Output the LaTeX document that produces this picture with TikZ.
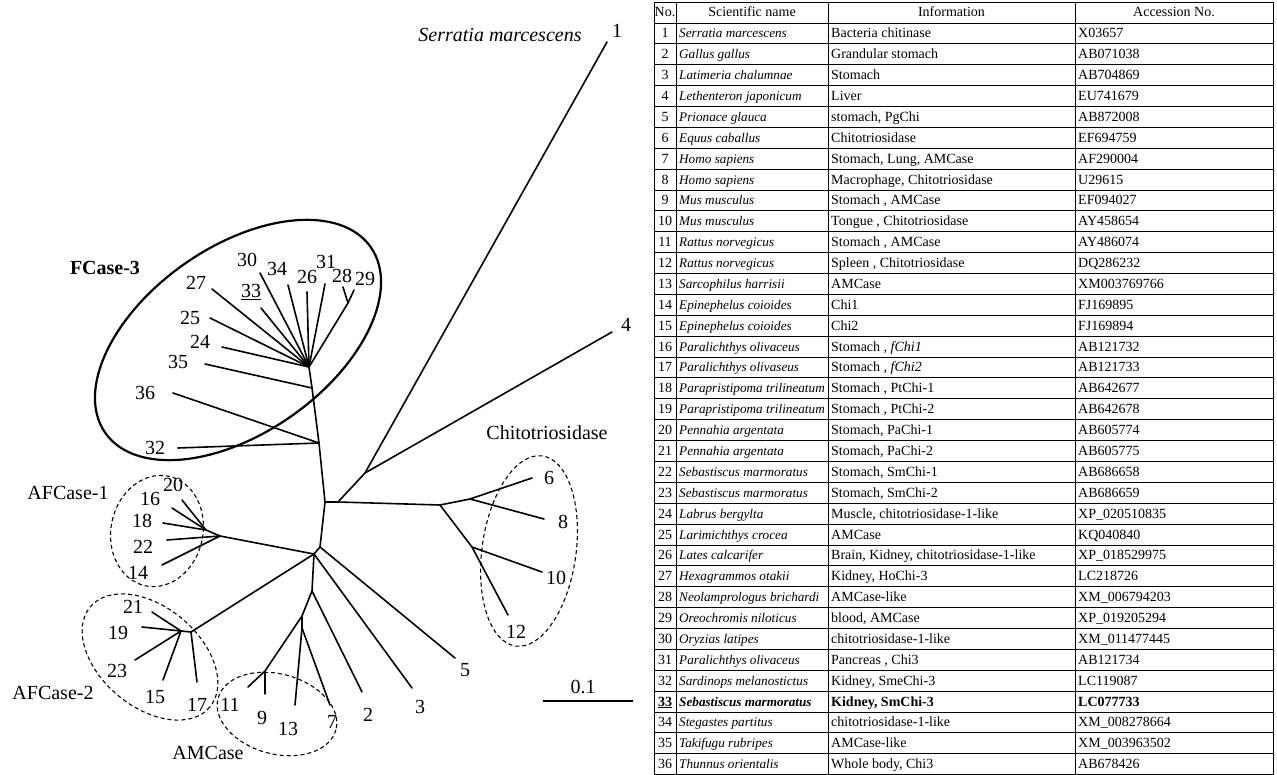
\documentclass[tikz,border=0pt]{standalone}
\usepackage{fontspec}
\setmainfont{Liberation Serif}
\usepackage{tikz}
\newcommand{\treefont}{\fontsize{20}{22}\selectfont}
\newcommand{\tabfont}{\fontsize{14}{16}\selectfont}

\begin{document}
\begin{tikzpicture}[x=1pt,y=-1pt,
	branch/.style={line width=1.6pt,line cap=round},
	leaf/.style={font=\treefont,inner sep=0pt},
	clade/.style={line width=1.1pt,dash pattern=on 4pt off 3pt},
	cell/.style={font=\tabfont,inner sep=0pt,anchor=base west},
	scicell/.style={cell,font=\fontsize{13.2}{16}\selectfont\itshape},
	rule/.style={line width=0.7pt}]
	\useasboundingbox (0,0) rectangle (1277,775);
	% inner nodes of the tree
	\coordinate (n0) at (325,502);
	\coordinate (n1) at (338,502);
	\coordinate (a14) at (365,473);
	\coordinate (c0) at (440,505);
	\coordinate (c1) at (470,499);
	\coordinate (c2) at (472,547);
	\coordinate (g) at (319,443);
	\coordinate (f35) at (312,388);
	\coordinate (f1) at (309,367);
	\coordinate (h) at (348,303);
	\coordinate (m0) at (320,547);
	\coordinate (m1) at (314,554);
	\coordinate (m2) at (312,591);
	\coordinate (m3) at (302,616);
	\coordinate (m4) at (302,628);
	\coordinate (k) at (265,671);
	\coordinate (a1) at (220,536);
	\coordinate (a2) at (206,530);
	\coordinate (b1) at (191,632);
	\coordinate (b2) at (181,631);
	% leaf tips
	\foreach \k/\x/\y in {1/607/42,4/612/332,6/532/478,8/544/519,10/542/572,12/508/615,
		27/212/289,33/261/308,25/210/318,24/222/347,35/205/364,30/260/273,34/288/285,
		26/307/292,31/325/284,28/343/287,29/354/290,36/173/393,32/178/448,
		5/455/658,3/412/688,2/362/692,7/330/705,13/295/705,9/265/694,11/248/687,
		20/182/500,16/172/508,18/163/523,22/167/540,14/162/565,
		21/152/612,19/142/627,23/135/660,15/163/680,17/197/682}
		\coordinate (t\k) at (\x,\y);
	% branches
	\foreach \a/\b in {f1/f35,f35/g,g/n0,n0/m0,m0/m1,m1/m2,m2/m3,m3/m4,
		n0/n1,n1/c0,n1/a14,a14/t1,a14/t4,c0/c1,c1/t6,c1/t8,c0/c2,c2/t10,c2/t12,
		f1/t27,f1/t33,f1/t25,f1/t24,f1/t30,f1/t34,f1/t26,f1/t31,f1/h,h/t28,h/t29,
		f35/t35,g/t36,g/t32,m0/t5,m1/t3,m1/a1,a1/a2,a2/t20,a2/t16,a2/t18,a1/t22,a1/t14,
		m1/b1,b1/t17,b1/b2,b2/t21,b2/t19,b2/t23,b2/t15,
		m2/t2,m3/k,k/t11,k/t9,m4/t13,m4/t7}
		\draw[branch] (\a) -- (\b);
	% leaf numbers
	\foreach \k/\x/\y in {1/617/31,4/626/325,6/549/478,8/563/522,10/556/578,12/516/632,
		27/196/283,25/190/318,24/200/342,35/178/362,30/247/260,34/277/269,26/307/277,
		31/326/262,28/342/276,29/365/279,36/145/393,32/155/448,
		20/173/485,16/150/499,18/142/521,22/143/547,14/138/573,
		21/133/607,19/118/633,23/117/671,15/155/697,17/197/705,
		11/230/705,9/262/718,13/288/729,7/332/722,2/368/715,3/420/707,5/465/670}
		\node[leaf] (l\k) at (\x,\y) {\k};
	\node[leaf] (l33) at (251,292) {\underline{33}};
	% clades
	\draw[line width=2.2pt,rotate around={35:(238,340)}] (238,340) ellipse [x radius=162,y radius=93];
	\draw[clade,rotate around={-12:(157,531)}] (157,531) ellipse [x radius=46,y radius=56];
	\draw[clade,rotate around={-40:(150,657)}] (150,657) ellipse [x radius=78,y radius=50];
	\draw[clade,rotate around={-15:(277,714)}] (277,714) ellipse [x radius=61,y radius=40];
	\draw[clade,rotate around={-8:(529,551)}] (529,551) ellipse [x radius=47,y radius=96];
	\node[leaf,font=\treefont\itshape] (serratia) at (500,35) {Serratia marcescens};
	\node[leaf] (chito) at (547,433) {Chitotriosidase};
	\node[leaf,font=\treefont\bfseries] (fcase3) at (105,268) {FCase-3};
	\node[leaf] (afcase1) at (68,493) {AFCase-1};
	\node[leaf] (afcase2) at (53,693) {AFCase-2};
	\node[leaf] (amcase) at (208,753) {AMCase};
	% scale bar
	\coordinate (s0) at (543,701);
	\coordinate (s1) at (633,701);
	\draw[line width=2pt] (s0) -- (s1);
	\node[leaf] (scale) at (583,687) {0.1};
	% table
	\foreach \r in {0,...,37}
		\draw[rule] (654,{2+\r*20.88}) -- (1273,{2+\r*20.88});
	\foreach \c in {654,676,828,1075,1273}
		\draw[rule] (\c,2) -- (\c,774.6);
	\node[cell,anchor=base] (hno) at (665,17) {No.};
	\node[cell,anchor=base] (hsci) at (752,17) {Scientific name};
	\node[cell,anchor=base] (hinfo) at (951.5,17) {Information};
	\node[cell,anchor=base] (hacc) at (1174,17) {Accession No.};
	\foreach \nr/\sci/\info/\acc [count=\i] in {
		1/{Serratia marcescens}/{Bacteria chitinase}/X03657,
		2/{Gallus gallus}/{Grandular stomach}/AB071038,
		3/{Latimeria chalumnae}/{Stomach}/AB704869,
		4/{Lethenteron japonicum}/{Liver}/EU741679,
		5/{Prionace glauca}/{stomach, PgChi}/AB872008,
		6/{Equus caballus}/{Chitotriosidase}/EF694759,
		7/{Homo sapiens}/{Stomach, Lung, AMCase}/AF290004,
		8/{Homo sapiens}/{Macrophage, Chitotriosidase}/U29615,
		9/{Mus musculus}/{Stomach , AMCase}/EF094027,
		10/{Mus musculus}/{Tongue , Chitotriosidase}/AY458654,
		11/{Rattus norvegicus}/{Stomach , AMCase}/AY486074,
		12/{Rattus norvegicus}/{Spleen , Chitotriosidase}/DQ286232,
		13/{Sarcophilus harrisii}/{AMCase}/XM003769766,
		14/{Epinephelus coioides}/{Chi1}/FJ169895,
		15/{Epinephelus coioides}/{Chi2}/FJ169894,
		16/{Paralichthys olivaceus}/{Stomach , \textit{fChi1}}/AB121732,
		17/{Paralichthys olivaseus}/{Stomach , \textit{fChi2}}/AB121733,
		18/{Parapristipoma trilineatum}/{Stomach , PtChi-1}/AB642677,
		19/{Parapristipoma trilineatum}/{Stomach , PtChi-2}/AB642678,
		20/{Pennahia argentata}/{Stomach, PaChi-1}/AB605774,
		21/{Pennahia argentata}/{Stomach, PaChi-2}/AB605775,
		22/{Sebastiscus marmoratus}/{Stomach, SmChi-1}/AB686658,
		23/{Sebastiscus marmoratus}/{Stomach, SmChi-2}/AB686659,
		24/{Labrus bergylta}/{Muscle, chitotriosidase-1-like}/XP\_020510835,
		25/{Larimichthys crocea}/{AMCase}/KQ040840,
		26/{Lates calcarifer}/{Brain, Kidney, chitotriosidase-1-like}/XP\_018529975,
		27/{Hexagrammos otakii}/{Kidney, HoChi-3}/LC218726,
		28/{Neolamprologus brichardi}/{AMCase-like}/XM\_006794203,
		29/{Oreochromis niloticus}/{blood, AMCase}/XP\_019205294,
		30/{Oryzias latipes}/{chitotriosidase-1-like}/XM\_011477445,
		31/{Paralichthys olivaceus}/{Pancreas , Chi3}/AB121734,
		32/{Sardinops melanostictus}/{Kidney, SmeChi-3}/LC119087,
		{\underline{\textbf{33}}}/{\textbf{Sebastiscus marmoratus}}/{\textbf{Kidney, SmChi-3}}/{\textbf{LC077733}},
		34/{Stegastes partitus}/{chitotriosidase-1-like}/XM\_008278664,
		35/{Takifugu rubripes}/{AMCase-like}/XM\_003963502,
		36/{Thunnus orientalis}/{Whole body, Chi3}/AB678426}
	{
		\pgfmathsetmacro{\yb}{17+\i*20.88}
		\node[cell,anchor=base] (no\i) at (665,\yb) {\nr};
		\node[scicell] (sci\i) at (679,\yb) {\sci};
		\node[cell] (info\i) at (831,\yb) {\info};
		\node[cell] (acc\i) at (1078,\yb) {\acc};
	}
\end{tikzpicture}
\end{document}
